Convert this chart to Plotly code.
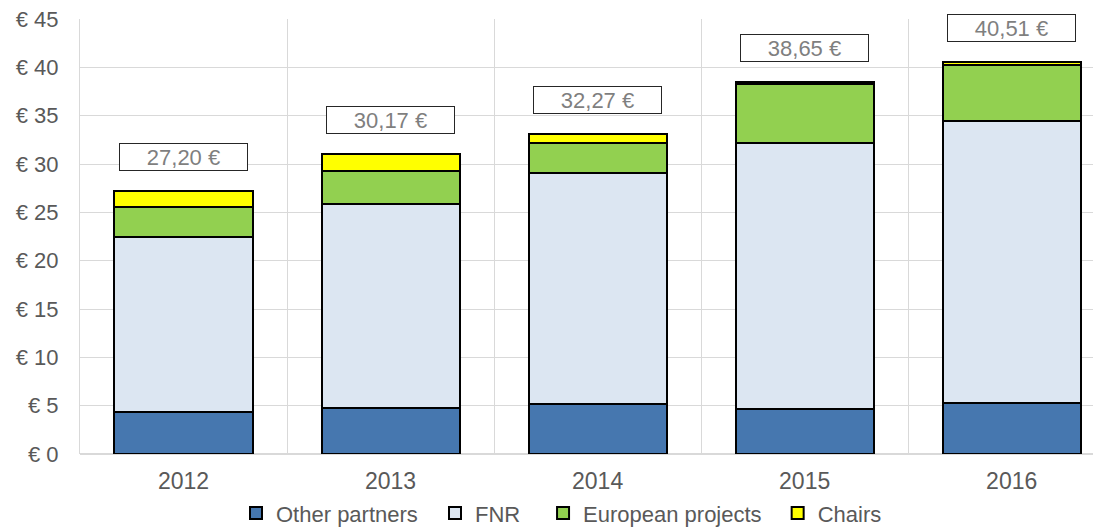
import plotly.graph_objects as go

years = ["2012", "2013", "2014", "2015", "2016"]
other_partners = [4.34, 4.72, 5.14, 4.62, 5.31]
fnr = [18.14, 21.17, 23.96, 27.52, 29.14]
european_projects = [3.04, 3.42, 3.04, 6.13, 5.75]
chairs = [1.68, 1.72, 0.93, 0.23, 0.35]
total_labels = ["27,20 €", "30,17 €", "32,27 €", "38,65 €", "40,51 €"]

font = "Liberation Sans, Arial, sans-serif"
grey = "#595959"

series = [
    ("Other partners", other_partners, "#4677af"),
    ("FNR", fnr, "#dce6f2"),
    ("European projects", european_projects, "#92d050"),
    ("Chairs", chairs, "#ffff00"),
]
# one small legend per entry so the spacing can follow the original
legend_ids = ["legend", "legend2", "legend3", "legend4"]
legend_x = [0.1516, 0.345, 0.45, 0.678]

fig = go.Figure()
for (name, vals, col), lg in zip(series, legend_ids):
    fig.add_trace(go.Bar(
        x=years, y=vals, name=name, legend=lg,
        marker=dict(color=col, line=dict(color="black", width=2)),
        width=0.667,
    ))

# boxed total labels above each stack (x given as category index)
for i, yr in enumerate(years):
    top = other_partners[i] + fnr[i] + european_projects[i] + chairs[i]
    fig.add_annotation(
        x=i, y=top + 3.5, text=total_labels[i], showarrow=False,
        font=dict(family=font, size=22, color="#7f7f7f"),
        bgcolor="white", bordercolor="#262626", borderwidth=1, borderpad=1,
        width=125, height=24,
    )

legend_style = dict(orientation="h", xanchor="left", y=-0.136, yanchor="middle",
                    font=dict(size=22, color=grey), itemwidth=30,
                    bgcolor="rgba(0,0,0,0)")

# page body adds an 8px offset, so margins are trimmed by that
fig.update_layout(
    barmode="stack",
    width=1101, height=527,
    margin=dict(l=72, r=0, t=11, b=81, autoexpand=False),
    plot_bgcolor="white", paper_bgcolor="white",
    font=dict(family=font, size=22, color=grey),
    showlegend=True,
    **{lg: dict(legend_style, x=lx) for lg, lx in zip(legend_ids, legend_x)},
)
fig.update_xaxes(
    type="category", range=[-0.5, 4.47], tickson="boundaries", showgrid=True,
    gridcolor="#d9d9d9", gridwidth=1, ticks="", showline=False,
    tickfont=dict(size=23, color=grey), ticklabelstandoff=11,
)
fig.update_yaxes(
    range=[0, 45], dtick=5, tickprefix="€ ", showgrid=True, gridcolor="#d9d9d9",
    gridwidth=1, zeroline=True, zerolinecolor="#d9d9d9", zerolinewidth=2,
    showline=True, linecolor="#d9d9d9", linewidth=1, ticklabeloverflow="allow",
    tickfont=dict(size=22, color=grey), ticks="", ticklabelstandoff=16,
)

fig.write_html("out.html")
